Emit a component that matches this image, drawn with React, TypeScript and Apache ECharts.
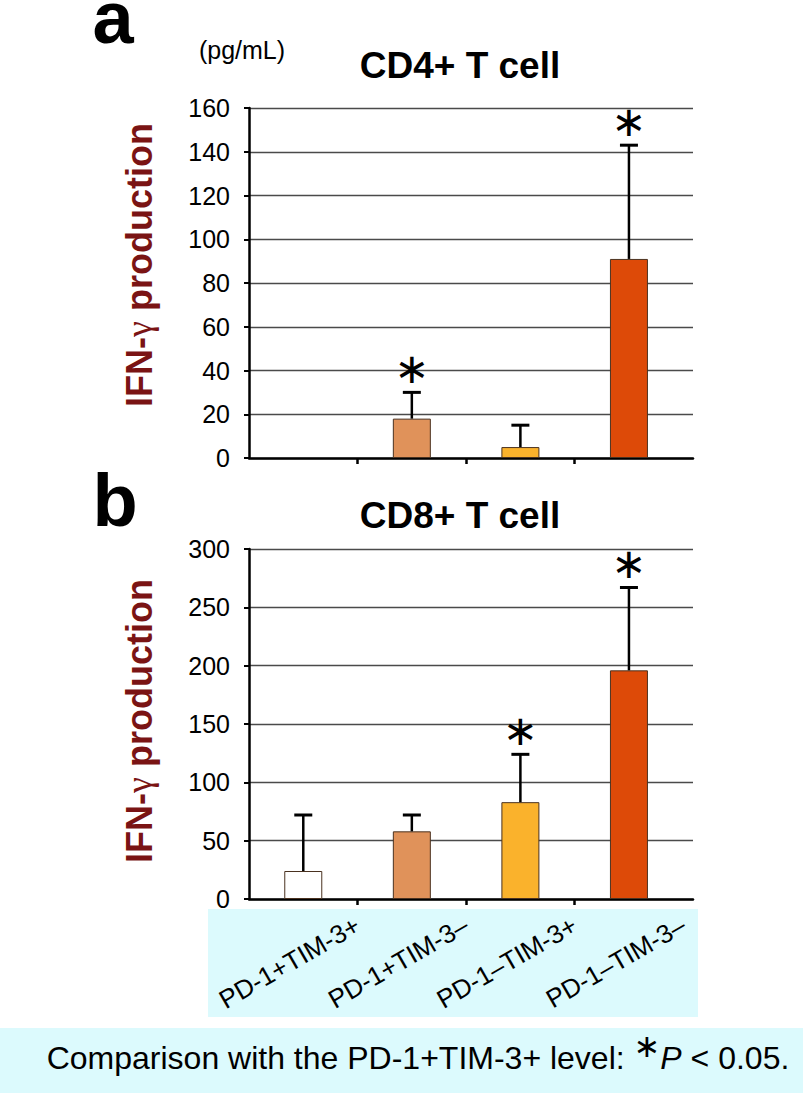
import React, { useEffect, useRef } from 'react';
import * as echarts from 'echarts';

const categories = ['PD-1+TIM-3+', 'PD-1+TIM-3–', 'PD-1–TIM-3+', 'PD-1–TIM-3–'];
const barColors = ['#ffffff', '#e0925a', '#fab22c', '#dd4a08'];

const cd4Title = 'CD4+ T cell';
const cd4Means: (number | null)[] = [null, 18, 5, 91];
const cd4ErrTops: (number | null)[] = [null, 30, 15, 143];
const cd4Significant = [false, true, false, true];
const cd4AxisMax = 160;
const cd4AxisStep = 20;

const cd8Title = 'CD8+ T cell';
const cd8Means: (number | null)[] = [24, 58, 83, 196];
const cd8ErrTops: (number | null)[] = [72, 72, 124, 267];
const cd8Significant = [false, false, true, true];
const cd8AxisMax = 300;
const cd8AxisStep = 50;

const FONT = 'Liberation Sans, Arial, Helvetica, sans-serif';

export default function App() {
  const ref = useRef<HTMLDivElement>(null);
  useEffect(() => {
    if (!ref.current) return;
    const chart = echarts.init(ref.current, undefined, { renderer: 'svg' });

    const grids = [
      { left: 249, top: 108, width: 444, height: 350 },
      { left: 249, top: 549, width: 444, height: 350 },
    ];

    const panels = [
      { means: cd4Means, tops: cd4ErrTops, sig: cd4Significant, max: cd4AxisMax, step: cd4AxisStep, labels: false },
      { means: cd8Means, tops: cd8ErrTops, sig: cd8Significant, max: cd8AxisMax, step: cd8AxisStep, labels: true },
    ];

    const xAxis = panels.map((p, i) => ({
      gridIndex: i,
      type: 'value',
      min: 0,
      max: 4.09,
      axisLine: { show: true, onZero: false, lineStyle: { color: '#000', width: 2.5 } },
      axisTick: { show: true, customValues: [1, 2, 3], length: 6, lineStyle: { color: '#000', width: 2.5 } },
      splitLine: { show: false },
      axisLabel: p.labels
        ? {
            show: true,
            customValues: [1, 2, 3, 4],
            formatter: (v: number) => categories[Math.round(v) - 1] || '',
            rotate: 30,
            fontSize: 26,
            color: '#000',
            margin: 24,
            fontFamily: FONT,
          }
        : { show: false },
    }));

    const yAxis = panels.map((p, i) => ({
      gridIndex: i,
      type: 'value',
      min: 0,
      max: p.max,
      interval: p.step,
      axisLine: { show: true, lineStyle: { color: '#000', width: 2.5 } },
      axisTick: { show: true, length: 5, lineStyle: { color: '#000', width: 2 } },
      splitLine: { show: true, lineStyle: { color: '#4a4a4a', width: 1.3 } },
      axisLabel: { fontSize: 25, color: '#000', margin: 19, fontFamily: FONT },
    }));

    const series: any[] = [];
    panels.forEach((p, i) => {
      const barData: any[] = [];
      const errData: any[] = [];
      p.means.forEach((m, k) => {
        if (m == null) return;
        barData.push({ value: [k + 0.5, m], itemStyle: { color: barColors[k] } });
        const t = p.tops[k];
        if (t != null) errData.push([k + 0.5, m, t, p.sig[k] ? 1 : 0]);
      });
      series.push({
        type: 'bar',
        xAxisIndex: i,
        yAxisIndex: i,
        barWidth: 38,
        data: barData,
        itemStyle: { borderColor: '#4a3220', borderWidth: 1 },
        z: 2,
      });
      series.push({
        type: 'custom',
        xAxisIndex: i,
        yAxisIndex: i,
        z: 3,
        encode: { x: 0, y: [1, 2] },
        data: errData,
        renderItem: (params: any, api: any) => {
          const x = api.value(0);
          const base = api.coord([x, api.value(1)]);
          const top = api.coord([x, api.value(2)]);
          const children: any[] = [
            { type: 'line', shape: { x1: base[0], y1: base[1], x2: top[0], y2: top[1] }, style: { stroke: '#000', lineWidth: 2.5 } },
            { type: 'line', shape: { x1: top[0] - 9, y1: top[1], x2: top[0] + 9, y2: top[1] }, style: { stroke: '#000', lineWidth: 3 } },
          ];
          if (api.value(3)) {
            children.push({
              type: 'text',
              x: top[0],
              y: top[1] - 24,
              style: { text: '∗', fontSize: 42, fontFamily: 'DejaVu Sans', fill: '#000', align: 'center', verticalAlign: 'middle' },
            });
          }
          return { type: 'group', children };
        },
      });
    });

    const yTitleStyle = {
      text: '{b|IFN-}{g|γ}{b| production}',
      align: 'center',
      verticalAlign: 'middle',
      rich: {
        b: { fontSize: 36, fontWeight: 'bold', fontFamily: FONT, fill: '#7a1414' },
        g: { fontSize: 36, fontWeight: 'normal', fontFamily: 'Liberation Serif, DejaVu Serif, serif', fill: '#7a1414' },
      },
    };

    const graphic: any[] = [
      { type: 'rect', z: -10, shape: { x: 208, y: 909, width: 490, height: 108 }, style: { fill: '#dcfafd' } },
      { type: 'rect', z: -10, shape: { x: 0, y: 1028, width: 803, height: 65 }, style: { fill: '#dcfafd' } },
      { type: 'text', x: 113, y: 0, style: { text: 'a', fontSize: 74, lineHeight: 34, fontWeight: 'bold', fontFamily: FONT, fill: '#000', align: 'center', verticalAlign: 'top' } },
      { type: 'text', x: 115, y: 500, style: { text: 'b', fontSize: 74, fontWeight: 'bold', fontFamily: FONT, fill: '#000', align: 'center', verticalAlign: 'middle' } },
      { type: 'text', x: 242, y: 50, style: { text: '(pg/mL)', fontSize: 25, fontFamily: FONT, fill: '#000', align: 'center', verticalAlign: 'middle' } },
      { type: 'text', x: 460, y: 65, style: { text: cd4Title, fontSize: 37, fontWeight: 'bold', fontFamily: FONT, fill: '#000', align: 'center', verticalAlign: 'middle' } },
      { type: 'text', x: 460, y: 515, style: { text: cd8Title, fontSize: 37, fontWeight: 'bold', fontFamily: FONT, fill: '#000', align: 'center', verticalAlign: 'middle' } },
      { type: 'text', x: 139, y: 265, rotation: Math.PI / 2, style: yTitleStyle },
      { type: 'text', x: 139, y: 721, rotation: Math.PI / 2, style: yTitleStyle },
      {
        type: 'text',
        x: 418,
        y: 1052,
        style: {
          text: '{a|Comparison with the PD-1+TIM-3+ level: }{s|∗}{i|P}{a| < 0.05.}',
          align: 'center',
          verticalAlign: 'middle',
          rich: {
            a: { fontSize: 32, fontFamily: FONT, fill: '#000', lineHeight: 44, verticalAlign: 'bottom' },
            i: { fontSize: 32, fontFamily: FONT, fontStyle: 'italic', fill: '#000', lineHeight: 44, verticalAlign: 'bottom' },
            s: { fontSize: 32, fontFamily: 'DejaVu Sans', fill: '#000', lineHeight: 32, verticalAlign: 'top' },
          },
        },
      },
    ];

    chart.setOption({
      animation: false,
      backgroundColor: '#ffffff',
      grid: grids,
      xAxis,
      yAxis,
      series,
      graphic,
    });
    return () => chart.dispose();
  }, []);
  return <div ref={ref} style={{ position: 'absolute', left: 0, top: 0, width: 810, height: 1095 }} />;
}
